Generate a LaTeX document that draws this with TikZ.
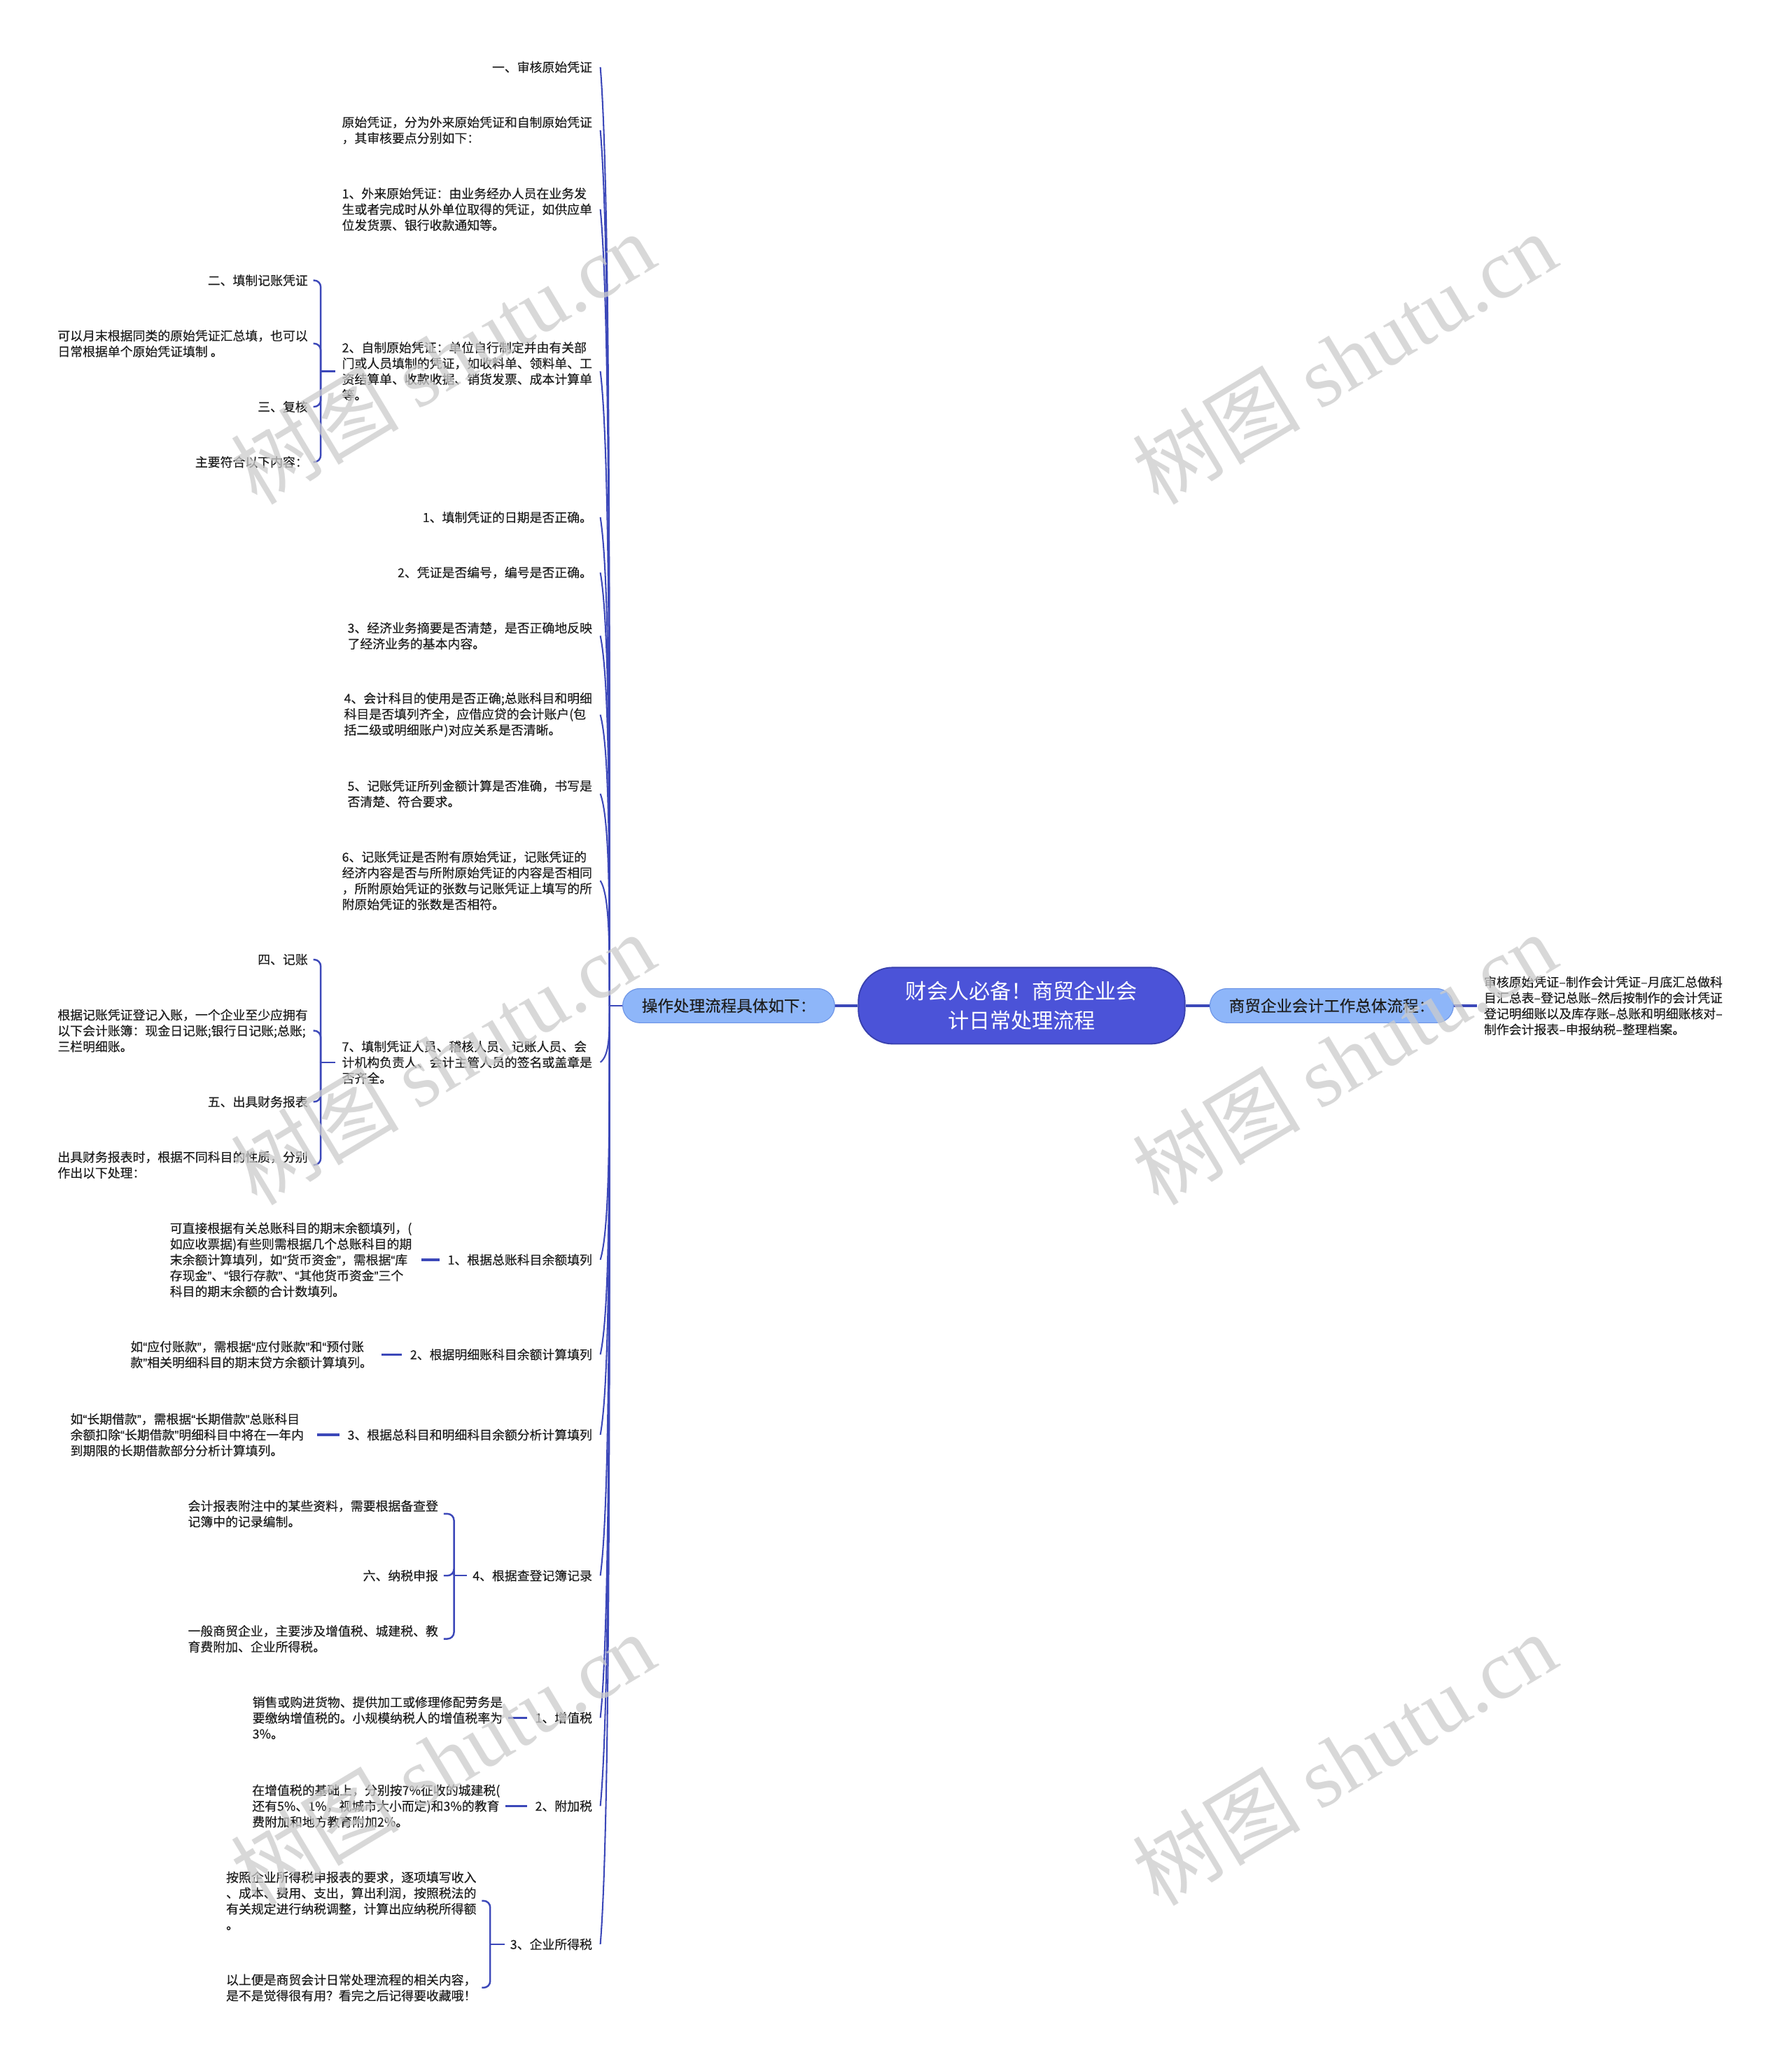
\documentclass[tikz,border=0pt]{standalone}
\usepackage{fontspec}
\setmainfont{Noto Sans CJK SC}
\newfontfamily\leaffont[FakeBold=0.25]{Noto Sans CJK SC}
\newfontfamily\wmlatin{Liberation Serif}
\newfontfamily\qtfont[FakeBold=0.25]{Liberation Sans}
\newcommand\myoq{{\qtfont “}}
\newcommand\mycq{{\qtfont ”}}
\usetikzlibrary{calc}
\definecolor{linecol}{HTML}{3C48B9}
\definecolor{rootfill}{HTML}{4B53D8}
\definecolor{rootdraw}{HTML}{3840AE}
\definecolor{lvfill}{HTML}{8EB6F9}
\definecolor{lvdraw}{HTML}{6C94E6}
\definecolor{txtcol}{HTML}{1E1E1E}
\definecolor{wmcol}{HTML}{CCCCCC}
\newcommand\trunkline[1]{\draw[conn] (J) .. controls ($(J)!0.5!(J|-#1.east)$) and ($(J|-#1.east)!0.12!(J)$) .. ([xshift=6pt]#1.east);}
\begin{document}
\begin{tikzpicture}[x=1pt,y=-1pt,
  leaf/.style={anchor=east, align=left, inner sep=0pt, font=\leaffont\fontsize{9.5}{12}\selectfont, text=txtcol},
  conn/.style={draw=linecol, line width=1.1pt},
  bconn/.style={draw=linecol, line width=1.3pt},
  hconn/.style={draw=linecol, line width=1.8pt},
  lvone/.style={fill=lvfill, draw=lvdraw, line width=0.6pt, rounded corners=13pt, minimum height=26pt, inner sep=0pt, font=\leaffont\fontsize{12}{14}\selectfont, text=txtcol},
  rootnode/.style={fill=rootfill, draw=rootdraw, line width=1pt, rounded corners=26pt, minimum width=248pt, minimum height=58pt, inner sep=0pt, align=center, font=\fontsize{16}{22}\selectfont, text=white},
  wmark/.style={rotate=31, text=wmcol, opacity=0.75, inner sep=0pt, font=\fontsize{64}{64}\selectfont}
]
\fill[white] (0,0) rectangle (1361,1568);
\useasboundingbox (0,0) rectangle (1361,1568);

% central nodes
\node[rootnode] (root) at (776,764) {财会人必备！商贸企业会\\计日常处理流程};
\node[lvone, minimum width=161pt] (op) at (553.5,764) {操作处理流程具体如下：};
\node[lvone, minimum width=185pt] (rt) at (1011.5,764) {商贸企业会计工作总体流程：};
\node[leaf, anchor=west] (rtx) at (1127,764) {审核原始凭证–制作会计凭证–月底汇总做科\\目汇总表–登记总账–然后按制作的会计凭证\\登记明细账以及库存账–总账和明细账核对–\\制作会计报表–申报纳税–整理档案。};

\draw[hconn] (root.west) -- (op.east);
\draw[hconn] (root.east) -- (rt.west);
\draw[hconn] (rt.east) -- ([xshift=-5pt]rtx.west);

% trunk children
\node[leaf] (c1) at (450,51) {一、审核原始凭证};
\node[leaf] (c2) at (450,99) {原始凭证，分为外来原始凭证和自制原始凭证\\，其审核要点分别如下：};
\node[leaf] (c3) at (450,159) {1、外来原始凭证：由业务经办人员在业务发\\生或者完成时从外单位取得的凭证，如供应单\\位发货票、银行收款通知等。};
\node[leaf] (c4) at (450,282) {2、自制原始凭证：单位自行制定并由有关部\\门或人员填制的凭证，如收料单、领料单、工\\资结算单、收款收据、销货发票、成本计算单\\等。};
\node[leaf] (c5) at (450,393) {1、填制凭证的日期是否正确。};
\node[leaf] (c6) at (450,435) {2、凭证是否编号，编号是否正确。};
\node[leaf] (c7) at (450,483) {3、经济业务摘要是否清楚，是否正确地反映\\了经济业务的基本内容。};
\node[leaf] (c8) at (450,543) {4、会计科目的使用是否正确;总账科目和明细\\科目是否填列齐全，应借应贷的会计账户(包\\括二级或明细账户)对应关系是否清晰。};
\node[leaf] (c9) at (450,603) {5、记账凭证所列金额计算是否准确，书写是\\否清楚、符合要求。};
\node[leaf] (c10) at (450,669) {6、记账凭证是否附有原始凭证，记账凭证的\\经济内容是否与所附原始凭证的内容是否相同\\，所附原始凭证的张数与记账凭证上填写的所\\附原始凭证的张数是否相符。};
\node[leaf] (c11) at (450,807) {7、填制凭证人员、稽核人员、记账人员、会\\计机构负责人、会计主管人员的签名或盖章是\\否齐全。};
\node[leaf] (c12) at (450,957) {1、根据总账科目余额填列};
\node[leaf] (c13) at (450,1029) {2、根据明细账科目余额计算填列};
\node[leaf] (c14) at (450,1090) {3、根据总科目和明细科目余额分析计算填列};
\node[leaf] (c15) at (450,1197) {4、根据查登记簿记录};
\node[leaf] (c16) at (450,1305) {1、增值税};
\node[leaf] (c17) at (450,1372) {2、附加税};
\node[leaf] (c18) at (450,1477) {3、企业所得税};

\coordinate (J) at (463,764);
\draw[conn] (op.west) -- (J);
\foreach \c in {c1,c2,c3,c4,c5,c6,c7,c8,c9,c10,c11,c12,c13,c14,c15,c16,c17,c18} {\trunkline{\c}}

% sub-children of c4
\node[leaf] (c4a) at (234,213) {二、填制记账凭证};
\node[leaf] (c4b) at (234,261) {可以月末根据同类的原始凭证汇总填，也可以\\日常根据单个原始凭证填制 。};
\node[leaf] (c4c) at (234,309) {三、复核};
\node[leaf] (c4d) at (234,351) {主要符合以下内容：};
\coordinate (b4) at ([xshift=-16pt]c4.west);
\draw[bconn] ([xshift=-5pt]c4.west) -- (b4);
\foreach \s in {c4a,c4b,c4c,c4d} {\draw[bconn, rounded corners=5pt] (b4) |- ([xshift=4pt]\s.east);}

% sub-children of c11
\node[leaf] (c11a) at (234,729) {四、记账};
\node[leaf] (c11b) at (234,783) {根据记账凭证登记入账，一个企业至少应拥有\\以下会计账簿：现金日记账;银行日记账;总账;\\三栏明细账。};
\node[leaf] (c11c) at (234,837) {五、出具财务报表};
\node[leaf] (c11d) at (234,885) {出具财务报表时，根据不同科目的性质，分别\\作出以下处理：};
\coordinate (b11) at ([xshift=-16pt]c11.west);
\draw[bconn] ([xshift=-5pt]c11.west) -- (b11);
\foreach \s in {c11a,c11b,c11c,c11d} {\draw[bconn, rounded corners=5pt] (b11) |- ([xshift=4pt]\s.east);}

% single children
\node[leaf] (c12a) at (313,957) {可直接根据有关总账科目的期末余额填列，(\\如应收票据)有些则需根据几个总账科目的期\\末余额计算填列，如\myoq 货币资金\mycq ，需根据\myoq 库\\存现金\mycq 、\myoq 银行存款\mycq 、\myoq 其他货币资金\mycq 三个\\科目的期末余额的合计数填列。};
\draw[hconn] ([xshift=7pt]c12a.east) -- ([xshift=-6pt]c12.west);
\node[leaf] (c13a) at (283,1029) {如\myoq 应付账款\mycq ，需根据\myoq 应付账款\mycq 和\myoq 预付账\\款\mycq 相关明细科目的期末贷方余额计算填列。};
\draw[hconn] ([xshift=7pt]c13a.east) -- ([xshift=-6pt]c13.west);
\node[leaf] (c14a) at (231,1090) {如\myoq 长期借款\mycq ，需根据\myoq 长期借款\mycq 总账科目\\余额扣除\myoq 长期借款\mycq 明细科目中将在一年内\\到期限的长期借款部分分析计算填列。};
\draw[hconn] ([xshift=10pt]c14a.east) -- ([xshift=-6pt]c14.west);

% sub-children of c15
\node[leaf] (c15a) at (333,1150) {会计报表附注中的某些资料，需要根据备查登\\记簿中的记录编制。};
\node[leaf] (c15b) at (333,1197) {六、纳税申报};
\node[leaf] (c15c) at (333,1245) {一般商贸企业，主要涉及增值税、城建税、教\\育费附加、企业所得税。};
\coordinate (b15) at ([xshift=-14pt]c15.west);
\draw[bconn] ([xshift=-4pt]c15.west) -- (b15);
\foreach \s in {c15a,c15b,c15c} {\draw[bconn, rounded corners=5pt] (b15) |- ([xshift=4pt]\s.east);}

\node[leaf] (c16a) at (382,1305) {销售或购进货物、提供加工或修理修配劳务是\\要缴纳增值税的。小规模纳税人的增值税率为\\3\%。};
\draw[hconn] ([xshift=4pt]c16a.east) -- ([xshift=-6pt]c16.west);
\node[leaf] (c17a) at (380,1372) {在增值税的基础上，分别按7\%征收的城建税(\\还有5\%、1\%，视城市大小而定)和3\%的教育\\费附加和地方教育附加2\%。};
\draw[hconn] ([xshift=4pt]c17a.east) -- ([xshift=-6pt]c17.west);

% sub-children of c18
\node[leaf] (c18a) at (362,1444) {按照企业所得税申报表的要求，逐项填写收入\\、成本、费用、支出，算出利润，按照税法的\\有关规定进行纳税调整，计算出应纳税所得额\\。};
\node[leaf] (c18b) at (362,1510) {以上便是商贸会计日常处理流程的相关内容，\\是不是觉得很有用？看完之后记得要收藏哦！};
\coordinate (b18) at ([xshift=-15pt]c18.west);
\draw[bconn] ([xshift=-4pt]c18.west) -- (b18);
\foreach \s in {c18a,c18b} {\draw[bconn, rounded corners=5pt] (b18) |- ([xshift=4pt]\s.east);}

% watermarks
\foreach \wx in {336,1021} {
  \foreach \wy in {272,804,1336} {
    \node[wmark] at (\wx,\wy) {树图 {\wmlatin shutu.cn}};
  }
}
\end{tikzpicture}
\end{document}
